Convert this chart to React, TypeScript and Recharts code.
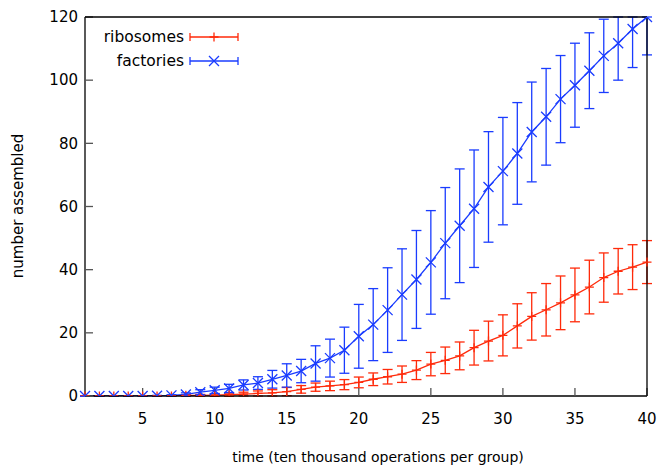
import { LineChart, Line, XAxis, YAxis, ErrorBar, Legend } from "recharts";

const TIME = [
  1, 2, 3, 4, 5, 6, 7, 8, 9, 10, 11, 12, 13, 14, 15, 16, 17, 18, 19, 20,
  21, 22, 23, 24, 25, 26, 27, 28, 29, 30, 31, 32, 33, 34, 35, 36, 37, 38, 39, 40,
];

const RIBOSOMES = [
  0, 0, 0, 0, 0, 0, 0,
  0.2, 0.2, 0.3, 0.4, 0.6, 0.8, 1.0, 1.4, 2.1, 2.8,
  3.2, 3.6, 4.3, 5.3, 6.1, 6.9, 8.2, 10.1, 11.3, 12.7,
  15.3, 17.4, 19.2, 22.2, 25.2, 27.3, 29.5, 32.0, 34.5, 37.5,
  39.5, 40.8, 42.4,
];

const RIBOSOMES_ERR = [
  0, 0, 0, 0, 0, 0, 0,
  0.2, 0.3, 0.4, 0.5, 0.6, 0.8, 1.0, 1.3, 1.2, 1.3,
  1.5, 1.6, 1.7, 2.0, 2.3, 2.6, 3.0, 3.7, 4.2, 4.4,
  5.5, 6.3, 6.5, 7.0, 7.5, 8.3, 8.5, 8.5, 8.5, 7.8,
  7.2, 7.1, 6.8,
];

const FACTORIES = [
  0, 0, 0, 0, 0, 0.1, 0.2,
  0.5, 1.2, 1.8, 2.4, 3.5, 4.1, 5.3, 6.5, 7.9, 10.3,
  12.0, 14.5, 18.9, 22.6, 27.2, 32.1, 36.9, 42.3, 48.4, 53.9,
  59.3, 66.2, 71.2, 76.8, 83.6, 88.4, 94.0, 98.4, 103.0, 107.7,
  111.7, 116.2, 120.0,
];

const FACTORIES_ERR = [
  0, 0, 0, 0, 0, 0.1, 0.2,
  0.5, 0.8, 1.0, 1.3, 1.6, 2.0, 2.8, 3.7, 3.7, 5.6,
  6.0, 7.3, 10.1, 11.4, 13.4, 14.5, 15.5, 16.4, 17.6, 18.0,
  18.6, 17.5, 17.0, 16.1, 15.8, 15.3, 13.8, 13.3, 12.0, 11.6,
  11.7, 12.2, 12.0,
];

const X_TICKS = [5, 10, 15, 20, 25, 30, 35, 40];
const Y_TICKS = [0, 20, 40, 60, 80, 100, 120];
const Y_MAX = 120;

const RED = "#ff2a0a";
const BLUE = "#1a3cff";
const FONT = "DejaVu Sans, sans-serif";

// error bars get cut at the top of the frame, like gnuplot does
const clip = (v: number, e: number) => [e, Math.min(e, Y_MAX - v)];

const data = TIME.map((t, i) => ({
  t,
  ribosomes: RIBOSOMES[i],
  ribosomesErr: clip(RIBOSOMES[i], RIBOSOMES_ERR[i]),
  factories: FACTORIES[i],
  factoriesErr: clip(FACTORIES[i], FACTORIES_ERR[i]),
}));

function PlusDot(props: any) {
  const { cx, cy, index } = props;
  if (cx == null || cy == null) return <g key={index} />;
  return (
    <path
      key={index}
      d={`M${cx - 4.5},${cy}h9M${cx},${cy - 4.5}v9`}
      stroke={RED}
      strokeWidth={1.3}
      fill="none"
    />
  );
}

function CrossDot(props: any) {
  const { cx, cy, index } = props;
  if (cx == null || cy == null) return <g key={index} />;
  const s = 5;
  return (
    <path
      key={index}
      d={`M${cx - s},${cy - s}L${cx + s},${cy + s}M${cx - s},${cy + s}L${cx + s},${cy - s}`}
      stroke={BLUE}
      strokeWidth={1.3}
      fill="none"
    />
  );
}

function Sample({ y, color, cross }: { y: number; color: string; cross: boolean }) {
  const x1 = 190;
  const x2 = 238;
  const mid = 214;
  return (
    <g stroke={color} strokeWidth={1.3} fill="none">
      <line x1={x1} y1={y} x2={x2} y2={y} />
      <line x1={x1} y1={y - 4} x2={x1} y2={y + 4} />
      <line x1={x2} y1={y - 4} x2={x2} y2={y + 4} />
      {cross ? (
        <path d={`M${mid - 5},${y - 5}L${mid + 5},${y + 5}M${mid - 5},${y + 5}L${mid + 5},${y - 5}`} />
      ) : (
        <path d={`M${mid - 4.5},${y}h9M${mid},${y - 4.5}v9`} />
      )}
    </g>
  );
}

function KeyBox() {
  return (
    <svg width={657} height={80} style={{ display: "block" }}>
      <g fontFamily={FONT} fontSize={15.5} fill="#000" textAnchor="end">
        <text x={184} y={42}>ribosomes</text>
        <text x={184} y={66}>factories</text>
      </g>
      <Sample y={37} color={RED} cross={false} />
      <Sample y={61} color={BLUE} cross={true} />
    </svg>
  );
}

export default function App() {
  const tickStyle = { fontFamily: FONT, fontSize: 15, fill: "#000" };
  const frame = { stroke: "#000", strokeWidth: 1.3 };
  const tickLn = { stroke: "#555", strokeWidth: 1.3 };
  return (
    <div>
      <style>{"body{margin:0}"}</style>
      <LineChart
        width={657}
        height={467}
        data={data}
        margin={{ top: 16, right: 9, bottom: 41, left: 0 }}
      >
        <XAxis
          dataKey="t"
          type="number"
          domain={[1, 40]}
          ticks={X_TICKS}
          interval={0}
          height={30}
          tickSize={-8}
          tickMargin={25}
          tick={tickStyle}
          axisLine={frame}
          tickLine={tickLn}
          label={{
            content: () => (
              <text x={378} y={462} textAnchor="middle" fontFamily={FONT} fontSize={14} fill="#000">
                time (ten thousand operations per group)
              </text>
            ),
          }}
        />
        <YAxis
          type="number"
          domain={[0, Y_MAX]}
          allowDataOverflow
          ticks={Y_TICKS}
          interval={0}
          width={85}
          tickSize={-8}
          tickMargin={15}
          tick={tickStyle}
          axisLine={frame}
          tickLine={tickLn}
          label={{
            content: () => (
              <text
                x={23}
                y={206}
                transform="rotate(-90 23 206)"
                textAnchor="middle"
                fontFamily={FONT}
                fontSize={15}
                fill="#000"
              >
                number assembled
              </text>
            ),
          }}
        />
        <Legend
          verticalAlign="middle"
          align="center"
          layout="horizontal"
          content={() => <KeyBox />}
          wrapperStyle={{ position: "absolute", left: 0, top: 0, width: 657, height: 80, pointerEvents: "none" }}
        />
        <Line
          dataKey="ribosomes"
          stroke={RED}
          strokeWidth={1.3}
          dot={PlusDot}
          activeDot={false}
          isAnimationActive={false}
        >
          <ErrorBar dataKey="ribosomesErr" direction="y" width={5} stroke={RED} strokeWidth={1.3} isAnimationActive={false} />
        </Line>
        <Line
          dataKey="factories"
          stroke={BLUE}
          strokeWidth={1.3}
          dot={CrossDot}
          activeDot={false}
          isAnimationActive={false}
        >
          <ErrorBar dataKey="factoriesErr" direction="y" width={5} stroke={BLUE} strokeWidth={1.3} isAnimationActive={false} />
        </Line>
        <XAxis
          xAxisId="top"
          orientation="top"
          dataKey="t"
          type="number"
          domain={[1, 40]}
          ticks={X_TICKS}
          interval={0}
          height={1}
          tickSize={-8}
          tick={false}
          axisLine={frame}
          tickLine={tickLn}
        />
        <YAxis
          yAxisId="right"
          orientation="right"
          type="number"
          domain={[0, Y_MAX]}
          ticks={Y_TICKS}
          interval={0}
          width={1}
          tickSize={-8}
          tick={false}
          axisLine={frame}
          tickLine={tickLn}
        />
      </LineChart>
    </div>
  );
}
